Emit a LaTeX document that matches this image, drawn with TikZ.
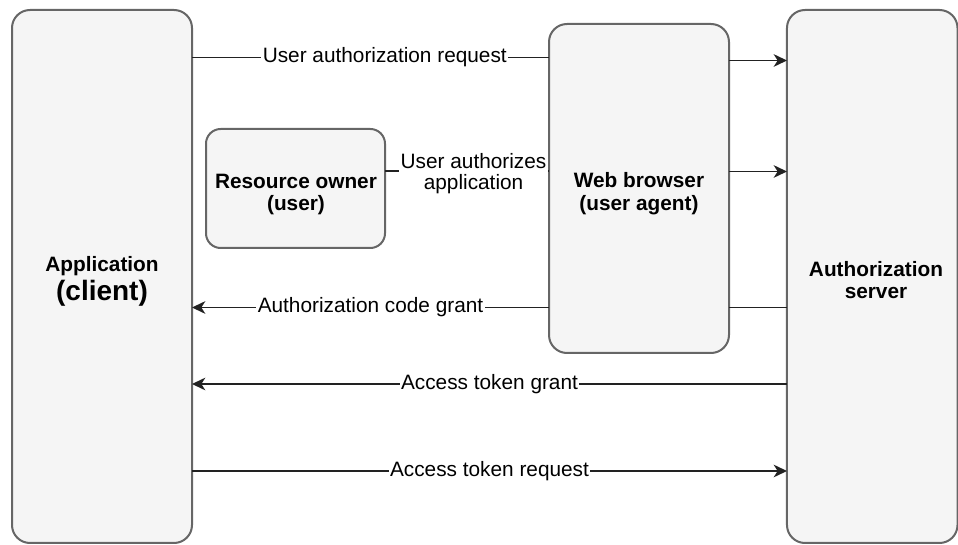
\documentclass[tikz,border=0pt]{standalone}
\usepackage{fontspec}
\setmainfont{Liberation Sans}
\usetikzlibrary{arrows.meta}
\definecolor{boxfill}{HTML}{F5F5F5}
\definecolor{boxline}{HTML}{666666}
\definecolor{edgeline}{HTML}{222222}
\begin{document}
\begin{tikzpicture}[x=0.75pt,y=-0.75pt,
  panel/.style={draw=boxline,fill=boxfill,line width=1.5pt,rounded corners=13.5pt,inner sep=0pt,outer sep=0pt},
  boxtext/.style={font=\fontsize{15.6}{18}\selectfont\bfseries,align=center,inner sep=0pt},
  link/.style={draw=edgeline,line width=1.1pt},
  arrowlink/.style={link,-{Stealth[length=10pt,width=9.5pt,inset=3pt]}},
  edgelabel/.style={font=\fontsize{15.6}{18}\selectfont,fill=white,inner sep=1pt,align=center}]
  \useasboundingbox (0,0) rectangle (958,545);
  % participants (sizes in pt: 1px = 0.75pt)
  \node[panel,minimum width=135pt,minimum height=399.75pt] (appbox) at (102,276.5) {};
  \node[panel,minimum width=127.9pt,minimum height=399.75pt] (authbox) at (872.25,276.5) {};
  \node[panel,minimum width=135pt,minimum height=246.75pt] (web) at (639,188.5) {};
  \node[panel,rounded corners=11pt,minimum width=134.25pt,minimum height=89.25pt] (owner) at (295.5,188.5) {};
  % box captions
  \node[boxtext] (apptext) at (102,266) {Application};
  \node[boxtext,font=\fontsize{21}{24}\selectfont\bfseries] (clienttext) at (102,293) {(client)};
  \node[boxtext] (webtext1) at (639,180) {Web browser};
  \node[boxtext] (webtext2) at (639,205) {(user agent)};
  \node[boxtext] (authtext1) at (876,269) {Authorization};
  \node[boxtext] (authtext2) at (876,293) {server};
  \node[boxtext] (ownertext1) at (296,181) {Resource owner};
  \node[boxtext] (ownertext2) at (296,205) {(user)};
  % user authorization request
  \draw[link] (appbox.east |- 0,57.5) -- node[edgelabel,pos=0.54] {User authorization request} (web.west |- 0,57.5);
  \draw[arrowlink] (web.east |- 0,60.5) -- (authbox.west |- 0,60.5);
  % user authorizes application
  \draw[link] (owner.east |- 0,171) -- node[edgelabel,pos=0.54,yshift=-2pt,font=\fontsize{15.6}{16}\selectfont] {User authorizes\\application} (web.west |- 0,171);
  \draw[arrowlink] (web.east |- 0,171.5) -- (authbox.west |- 0,171.5);
  % authorization code grant
  \draw[link] (authbox.west |- 0,307.5) -- (web.east |- 0,307.5);
  \draw[arrowlink] (web.west |- 0,307.5) -- node[edgelabel,pos=0.5] {Authorization code grant} (appbox.east |- 0,307.5);
  % access token grant
  \draw[arrowlink] (authbox.west |- 0,384) -- node[edgelabel,pos=0.5] {Access token grant} (appbox.east |- 0,384);
  % access token request
  \draw[arrowlink] (appbox.east |- 0,471) -- node[edgelabel,pos=0.5] {Access token request} (authbox.west |- 0,471);
\end{tikzpicture}
\end{document}
